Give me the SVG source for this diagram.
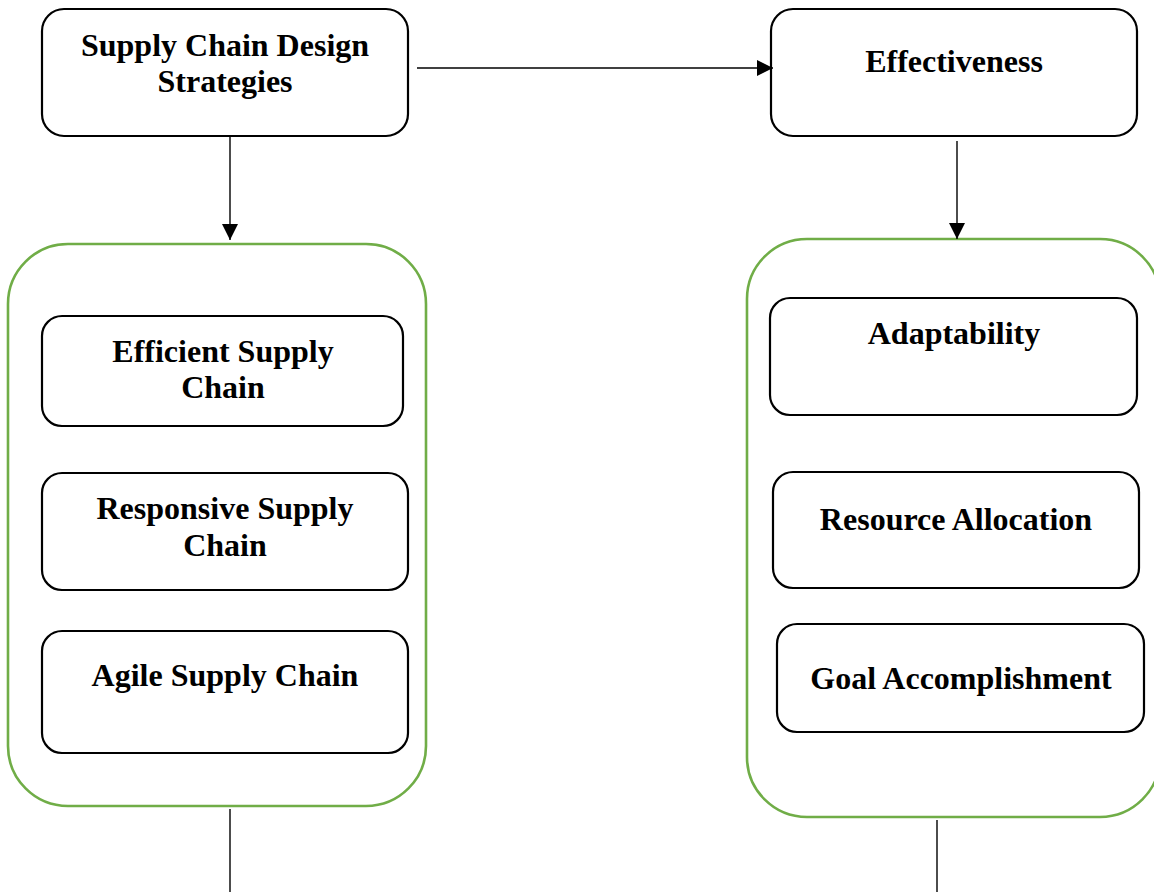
<svg xmlns="http://www.w3.org/2000/svg" width="1154" height="892" viewBox="0 0 1154 892">
  <style>
    .box { fill: #ffffff; stroke: #000000; stroke-width: 2.2; }
    .group { fill: #ffffff; stroke: #70AD47; stroke-width: 2.6; }
    .lbl { font-family: "Liberation Serif", "Times New Roman", serif; font-weight: bold; font-size: 32px; fill: #000000; text-anchor: middle; }
    .conn { stroke: #000000; stroke-width: 1.4; fill: none; }
  </style>
  <defs>
    <marker id="arrow" markerUnits="userSpaceOnUse" markerWidth="17" markerHeight="16" refX="16" refY="8" orient="auto">
      <path d="M0,0 L16,8 L0,16 Z" fill="#000000"/>
    </marker>
  </defs>

  <g id="group-left">
    <rect class="group" x="8" y="244" width="418" height="562" rx="60" ry="60"/>
  </g>
  <g id="group-right">
    <rect class="group" x="747" y="239" width="413" height="578" rx="60" ry="60"/>
  </g>

  <g id="node-design">
    <rect class="box" x="42" y="9" width="366" height="127" rx="22" ry="22"/>
    <text class="lbl" x="225" y="56">Supply Chain Design</text>
    <text class="lbl" x="225" y="92">Strategies</text>
  </g>
  <g id="node-effectiveness">
    <rect class="box" x="771" y="9" width="366" height="127" rx="22" ry="22"/>
    <text class="lbl" x="954" y="72">Effectiveness</text>
  </g>

  <g id="node-efficient">
    <rect class="box" x="42" y="316" width="361" height="110" rx="20" ry="20"/>
    <text class="lbl" x="223" y="362">Efficient Supply</text>
    <text class="lbl" x="223" y="398">Chain</text>
  </g>
  <g id="node-responsive">
    <rect class="box" x="42" y="473" width="366" height="117" rx="20" ry="20"/>
    <text class="lbl" x="225" y="519">Responsive Supply</text>
    <text class="lbl" x="225" y="556">Chain</text>
  </g>
  <g id="node-agile">
    <rect class="box" x="42" y="631" width="366" height="122" rx="20" ry="20"/>
    <text class="lbl" x="225" y="686">Agile Supply Chain</text>
  </g>

  <g id="node-adaptability">
    <rect class="box" x="770" y="298" width="367" height="117" rx="20" ry="20"/>
    <text class="lbl" x="954" y="344">Adaptability</text>
  </g>
  <g id="node-resource">
    <rect class="box" x="773" y="472" width="366" height="116" rx="20" ry="20"/>
    <text class="lbl" x="956" y="530">Resource Allocation</text>
  </g>
  <g id="node-goal">
    <rect class="box" x="777" y="624" width="367" height="108" rx="20" ry="20"/>
    <text class="lbl" x="961" y="689">Goal Accomplishment</text>
  </g>

  <g id="connectors">
    <line class="conn" x1="417" y1="68" x2="773" y2="68" marker-end="url(#arrow)"/>
    <line class="conn" x1="230" y1="136" x2="230" y2="240" marker-end="url(#arrow)"/>
    <line class="conn" x1="957" y1="141" x2="957" y2="239" marker-end="url(#arrow)"/>
    <line class="conn" x1="230" y1="809" x2="230" y2="892"/>
    <line class="conn" x1="937" y1="820" x2="937" y2="892"/>
  </g>
</svg>
